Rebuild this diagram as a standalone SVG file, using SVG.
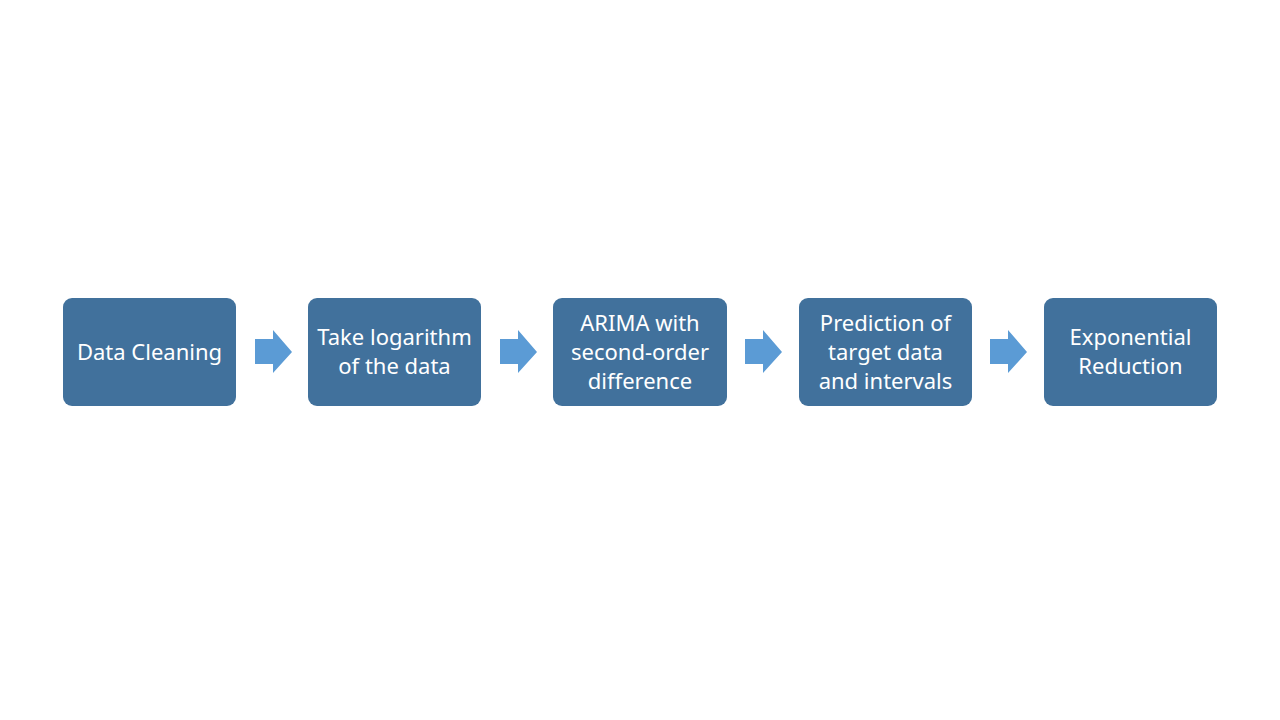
<svg xmlns="http://www.w3.org/2000/svg" width="1280" height="720" viewBox="0 0 1280 720">
<style>
.box{fill:#41719C;}
.t{font-family:"Noto Sans","Open Sans",sans-serif;font-size:22px;fill:#FFFFFF;text-anchor:middle;dominant-baseline:central;}
.arr{fill:#5B9BD5;}
</style>
<defs>
<path id="arrow" d="M0,-13 L18,-13 L18,-22 L37,0 L18,21 L18,12 L0,12 Z"/>
</defs>
<rect width="1280" height="720" fill="#FFFFFF"/>
<g id="n1"><rect class="box" x="63" y="298" width="173" height="108" rx="9"/><text class="t" x="149.5" y="351">Data Cleaning</text></g>
<g id="n2"><rect class="box" x="308" y="298" width="173" height="108" rx="9"/><text class="t" x="394.5" y="336">Take logarithm</text><text class="t" x="394.5" y="365">of the data</text></g>
<g id="n3"><rect class="box" x="553" y="298" width="174" height="108" rx="9"/><text class="t" x="640" y="322">ARIMA with</text><text class="t" x="640" y="351">second-order</text><text class="t" x="640" y="380">difference</text></g>
<g id="n4"><rect class="box" x="799" y="298" width="173" height="108" rx="9"/><text class="t" x="885.5" y="322">Prediction of</text><text class="t" x="885.5" y="351">target data</text><text class="t" x="885.5" y="380">and intervals</text></g>
<g id="n5"><rect class="box" x="1044" y="298" width="173" height="108" rx="9"/><text class="t" x="1130.5" y="336">Exponential</text><text class="t" x="1130.5" y="365">Reduction</text></g>
<g id="connectors">
<use href="#arrow" class="arr" x="255" y="352"/>
<use href="#arrow" class="arr" x="500" y="352"/>
<use href="#arrow" class="arr" x="745" y="352"/>
<use href="#arrow" class="arr" x="990" y="352"/>
</g>
</svg>
